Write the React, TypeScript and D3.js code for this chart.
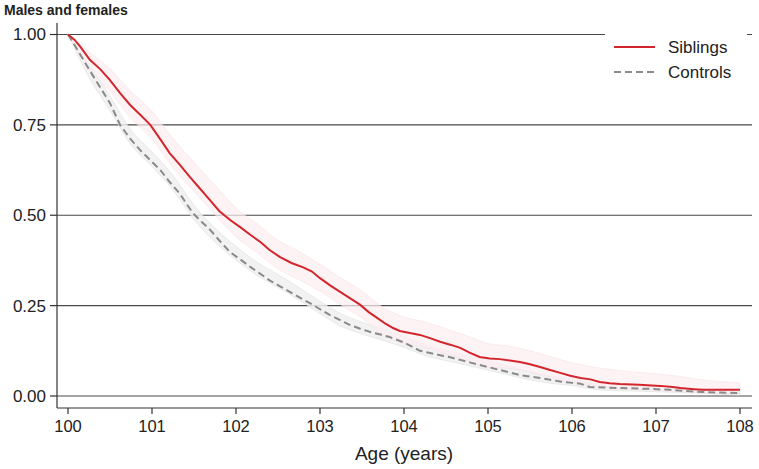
import React from "react";
import * as d3 from "d3";

const sibAges = [100, 100.08, 100.15, 100.26, 100.38, 100.5, 100.62, 100.74, 100.86, 100.98, 101.1, 101.21, 101.33, 101.45, 101.57, 101.69, 101.8, 101.93, 102.05, 102.17, 102.29, 102.4, 102.52, 102.66, 102.8, 102.9, 103.0, 103.12, 103.24, 103.36, 103.48, 103.58, 103.68, 103.78, 103.87, 103.95, 104.07, 104.19, 104.31, 104.43, 104.55, 104.67, 104.78, 104.9, 105.02, 105.14, 105.26, 105.38, 105.5, 105.62, 105.74, 105.86, 105.98, 106.1, 106.22, 106.33, 106.45, 106.57, 106.8, 107.05, 107.2, 107.29, 107.45, 107.56, 108];
const sibSurv = [1, 0.985, 0.965, 0.93, 0.905, 0.874, 0.838, 0.805, 0.778, 0.75, 0.71, 0.672, 0.64, 0.606, 0.574, 0.542, 0.512, 0.487, 0.467, 0.446, 0.426, 0.404, 0.385, 0.368, 0.356, 0.345, 0.326, 0.306, 0.288, 0.27, 0.252, 0.232, 0.216, 0.2, 0.188, 0.18, 0.174, 0.169, 0.16, 0.15, 0.142, 0.133, 0.12, 0.108, 0.104, 0.102, 0.098, 0.094, 0.088, 0.08, 0.072, 0.064, 0.056, 0.05, 0.046, 0.039, 0.035, 0.033, 0.031, 0.028, 0.025, 0.022, 0.019, 0.017, 0.017];

const ctrlAges = [100, 100.08, 100.17, 100.26, 100.38, 100.5, 100.56, 100.62, 100.74, 100.86, 100.98, 101.1, 101.21, 101.33, 101.41, 101.49, 101.59, 101.69, 101.81, 101.93, 102.05, 102.17, 102.29, 102.4, 102.52, 102.64, 102.76, 102.88, 103.0, 103.12, 103.24, 103.36, 103.48, 103.6, 103.72, 103.83, 104.0, 104.19, 104.31, 104.43, 104.55, 104.67, 104.78, 104.9, 105.02, 105.14, 105.26, 105.38, 105.5, 105.62, 105.74, 105.86, 105.98, 106.1, 106.21, 106.57, 106.9, 107.17, 107.56, 108];
const ctrlSurv = [1, 0.97, 0.935, 0.9, 0.855, 0.81, 0.78, 0.75, 0.712, 0.68, 0.652, 0.625, 0.592, 0.56, 0.532, 0.505, 0.482, 0.46, 0.428, 0.398, 0.378, 0.357, 0.338, 0.32, 0.304, 0.288, 0.272, 0.257, 0.24, 0.224, 0.21, 0.196, 0.186, 0.177, 0.17, 0.163, 0.148, 0.125, 0.119, 0.113, 0.107, 0.1, 0.093, 0.086, 0.079, 0.072, 0.065, 0.058, 0.054, 0.05, 0.045, 0.04, 0.037, 0.034, 0.025, 0.022, 0.02, 0.017, 0.011, 0.008];

const bandAges = [100, 100.25, 100.5, 100.75, 101, 101.25, 101.5, 101.75, 102, 102.25, 102.5, 102.75, 103, 103.25, 103.5, 103.75, 104, 104.25, 104.5, 104.75, 105, 105.25, 105.5, 105.75, 106, 106.25, 106.5, 106.75, 107, 107.25, 107.5, 107.75, 108];
const sibHi = [1.0, 0.952, 0.905, 0.842, 0.788, 0.712, 0.646, 0.583, 0.52, 0.476, 0.43, 0.4, 0.364, 0.326, 0.29, 0.245, 0.218, 0.205, 0.186, 0.166, 0.145, 0.138, 0.125, 0.108, 0.092, 0.08, 0.072, 0.066, 0.061, 0.055, 0.046, 0.04, 0.036];
const sibLo = [1.0, 0.908, 0.842, 0.768, 0.712, 0.632, 0.566, 0.502, 0.44, 0.397, 0.352, 0.322, 0.29, 0.252, 0.216, 0.17, 0.146, 0.135, 0.117, 0.098, 0.08, 0.077, 0.066, 0.052, 0.038, 0.03, 0.021, 0.019, 0.017, 0.013, 0.009, 0.007, 0.007];
const ctrlHi = [1, 0.918, 0.83, 0.735, 0.675, 0.61, 0.528, 0.464, 0.414, 0.37, 0.336, 0.3, 0.262, 0.227, 0.204, 0.186, 0.165, 0.142, 0.126, 0.113, 0.098, 0.082, 0.067, 0.055, 0.047, 0.035, 0.031, 0.028, 0.026, 0.024, 0.02, 0.017, 0.014];
const ctrlLo = [1, 0.882, 0.79, 0.695, 0.635, 0.57, 0.488, 0.426, 0.376, 0.334, 0.3, 0.266, 0.228, 0.193, 0.172, 0.154, 0.135, 0.112, 0.098, 0.085, 0.072, 0.058, 0.045, 0.035, 0.029, 0.019, 0.015, 0.014, 0.012, 0.01, 0.008, 0.005, 0.003];

const xTicks = [100, 101, 102, 103, 104, 105, 106, 107, 108];
const yTicks = [0, 0.25, 0.5, 0.75, 1];

const title = "Males and females";
const xLabel = "Age (years)";
const seriesNames = ["Siblings", "Controls"];

const W = 759;
const H = 469;
const FONT = "Liberation Sans, Arial, sans-serif";

export default function App() {
  const x = d3.scaleLinear().domain([100, 108]).range([68, 740]);
  const y = d3.scaleLinear().domain([0, 1]).range([396, 34.5]);
  const axisLeftX = 57;
  const axisBottomY = 408;
  const rightX = 752;

  const line = d3
    .line<[number, number]>()
    .x((d) => x(d[0]))
    .y((d) => y(d[1]))
    .curve(d3.curveLinear);

  const area = d3
    .area<[number, number, number]>()
    .x((d) => x(d[0]))
    .y0((d) => y(d[1]))
    .y1((d) => y(d[2]))
    .curve(d3.curveMonotoneX);

  const sibPts = sibAges.map((a, i) => [a, sibSurv[i]] as [number, number]);
  const ctrlPts = ctrlAges.map((a, i) => [a, ctrlSurv[i]] as [number, number]);
  const sibBand = bandAges.map((a, i) => [a, sibLo[i], sibHi[i]] as [number, number, number]);
  const ctrlBand = bandAges.map((a, i) => [a, ctrlLo[i], ctrlHi[i]] as [number, number, number]);

  return (
    <svg
      width={W}
      height={H}
      style={{ position: "absolute", left: 0, top: 0, background: "#fff" }}
      fontFamily={FONT}
    >
      <rect x={0} y={0} width={W} height={H} fill="#fff" />
      <text x={4} y={15} fontSize={14} fontWeight="bold" fill="#222">
        {title}
      </text>

      {/* gridlines */}
      {yTicks.map((t) => (
        <line key={"g" + t} x1={axisLeftX} x2={rightX} y1={y(t)} y2={y(t)} stroke="#4a4a4a" strokeWidth={1.2} />
      ))}

      {/* bands */}
      <path d={area(ctrlBand) || ""} fill="#f0f0f0" stroke="#e6e6e6" strokeWidth={1} opacity={0.85} />
      <path d={area(sibBand) || ""} fill="#fdeff2" stroke="#fae2e7" strokeWidth={1} opacity={0.7} />

      {/* lines */}
      <path d={line(ctrlPts) || ""} fill="none" stroke="#8a8a8a" strokeWidth={2} strokeDasharray="7,4" />
      <path d={line(sibPts) || ""} fill="none" stroke="#d2262c" strokeWidth={2} />

      {/* axes */}
      <line x1={axisLeftX} x2={axisLeftX} y1={23} y2={axisBottomY} stroke="#333" strokeWidth={1.2} />
      <line x1={axisLeftX} x2={rightX} y1={axisBottomY} y2={axisBottomY} stroke="#333" strokeWidth={1.2} />
      {yTicks.map((t) => (
        <g key={"yt" + t}>
          <line x1={50} x2={axisLeftX} y1={y(t)} y2={y(t)} stroke="#333" strokeWidth={1.2} />
          <text x={46} y={y(t)} dy="0.35em" textAnchor="end" fontSize={17} fill="#222">
            {t.toFixed(2)}
          </text>
        </g>
      ))}
      {xTicks.map((t) => (
        <g key={"xt" + t}>
          <line x1={x(t)} x2={x(t)} y1={axisBottomY} y2={414} stroke="#333" strokeWidth={1.2} />
          <text x={x(t)} y={432} textAnchor="middle" fontSize={16.5} fill="#222">
            {t}
          </text>
        </g>
      ))}
      <text x={(x(100) + x(108)) / 2} y={460} textAnchor="middle" fontSize={19} fill="#222">
        {xLabel}
      </text>

      {/* legend */}
      <rect x={605} y={24} width={142} height={68} fill="#fff" />
      <line x1={614} x2={655} y1={47} y2={47} stroke="#d2262c" strokeWidth={2} />
      <text x={668} y={47} dy="0.35em" fontSize={17} fill="#222">
        {seriesNames[0]}
      </text>
      <line x1={614} x2={655} y1={72} y2={72} stroke="#8a8a8a" strokeWidth={2} strokeDasharray="7,4" />
      <text x={668} y={72} dy="0.35em" fontSize={17} fill="#222">
        {seriesNames[1]}
      </text>
    </svg>
  );
}
